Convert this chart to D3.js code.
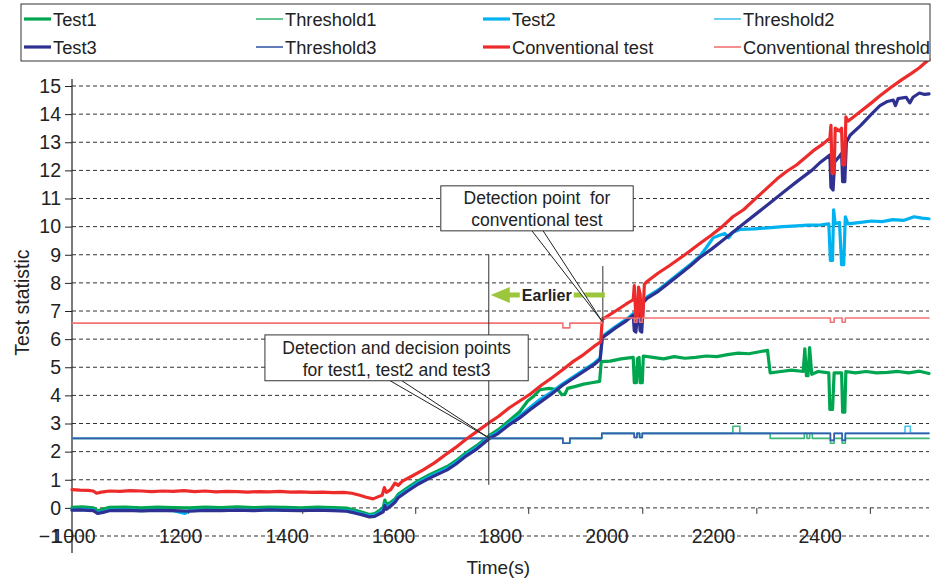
<!DOCTYPE html>
<html><head><meta charset="utf-8">
<script src="https://cdn.jsdelivr.net/npm/d3@7"></script>
<style>
body{margin:0;background:#fff}
svg{display:block}
text{font-family:"Liberation Sans",Arial,Helvetica,sans-serif;fill:#222}
</style>
</head><body>
<svg id="c" width="933" height="581"></svg>
<script>
// ---------- DATA ----------
const seriesNames = ["Test1","Threshold1","Test2","Threshold2","Test3","Threshold3","Conventional test","Conventional threshold"];
const seriesColors = ["#00a550","#3cb878","#00b2ef","#45c3f0","#2e3192","#3a5ba8","#ee2b2b","#f27373"];
const xTickLabels = [1000,1200,1400,1600,1800,2000,2200,2400];
const xMinorTicks = [1218,1432,1644,1856,2070,2284,2497];
const yTicks = [-1,0,1,2,3,4,5,6,7,8,9,10,11,12,13,14,15];

const test1 = [[1000,0.02],[1020,0.04],[1040,0.0],[1048,-0.1],[1058,-0.05],[1070,0.02],[1100,0.03],[1130,0.0],[1160,0.03],[1190,0.01],[1220,0.0],[1250,0.03],[1280,0.01],[1310,0.04],[1340,0.01],[1370,0.03],[1400,0.02],[1430,0.0],[1460,0.03],[1490,0.01],[1515,-0.01],[1530,-0.08],[1545,-0.16],[1558,-0.24],[1568,-0.2],[1578,-0.08],[1584,0.02],[1587,0.28],[1590,0.12],[1597,0.18],[1606,0.32],[1612,0.48],[1630,0.72],[1650,0.97],[1670,1.17],[1704,1.47],[1720,1.67],[1740,1.97],[1760,2.22],[1782,2.56],[1800,2.78],[1820,3.1],[1840,3.42],[1855,3.8],[1865,3.95],[1878,4.2],[1895,4.25],[1912,4.2],[1919,4.02],[1925,4.05],[1930,4.25],[1945,4.32],[1960,4.4],[1975,4.45],[1990,4.5],[1993,5.2],[2010,5.22],[2030,5.3],[2053,5.35],[2055,4.45],[2059,4.45],[2061,5.3],[2064,5.35],[2066,4.45],[2070,4.45],[2072,5.4],[2090,5.35],[2110,5.3],[2130,5.38],[2150,5.32],[2170,5.35],[2190,5.4],[2210,5.38],[2230,5.45],[2250,5.5],[2270,5.48],[2290,5.55],[2305,5.6],[2310,4.8],[2330,4.85],[2350,4.9],[2372,4.85],[2375,5.65],[2378,4.7],[2381,4.7],[2384,5.7],[2388,4.75],[2400,4.85],[2420,4.8],[2422,3.5],[2427,3.5],[2430,4.8],[2444,4.8],[2446,3.4],[2450,3.4],[2452,4.85],[2470,4.8],[2490,4.85],[2510,4.8],[2530,4.82],[2550,4.85],[2570,4.8],[2590,4.86],[2608,4.78]];

const threshold1 = [[1000,2.47],[1921,2.3],[1934,2.47],[1994,2.65],[2055,2.5],[2060,2.65],[2065,2.5],[2070,2.65],[2240,2.9],[2253,2.65],[2310,2.47],[2374,2.65],[2379,2.47],[2384,2.65],[2389,2.47],[2423,2.3],[2430,2.47],[2445,2.3],[2451,2.47],[2608,2.47]];

const test2 = [[1000,-0.06],[1020,-0.05],[1040,-0.08],[1048,-0.18],[1058,-0.14],[1070,-0.08],[1100,-0.07],[1130,-0.1],[1160,-0.08],[1190,-0.1],[1212,-0.2],[1220,-0.1],[1250,-0.08],[1280,-0.09],[1310,-0.07],[1340,-0.09],[1370,-0.06],[1400,-0.08],[1430,-0.09],[1460,-0.07],[1490,-0.08],[1515,-0.1],[1530,-0.15],[1545,-0.22],[1558,-0.28],[1568,-0.26],[1578,-0.16],[1584,-0.08],[1587,0.12],[1590,0.0],[1597,0.1],[1606,0.25],[1612,0.4],[1630,0.65],[1650,0.9],[1670,1.1],[1704,1.4],[1720,1.6],[1740,1.9],[1760,2.15],[1782,2.5],[1800,2.7],[1820,3.0],[1840,3.27],[1860,3.58],[1878,3.85],[1900,4.12],[1920,4.4],[1940,4.65],[1960,4.9],[1980,5.15],[1991,5.33],[1995,6.1],[2020,6.45],[2040,6.7],[2053,6.9],[2079,7.5],[2100,7.75],[2120,8.05],[2140,8.35],[2160,8.65],[2178,8.95],[2190,9.25],[2203,9.6],[2216,9.7],[2225,9.75],[2232,9.6],[2240,9.8],[2253,9.9],[2280,9.92],[2300,9.95],[2334,10.0],[2360,10.03],[2380,10.05],[2400,10.05],[2420,10.1],[2423,8.8],[2427,8.8],[2429,10.6],[2432,10.1],[2440,10.15],[2444,8.65],[2448,8.65],[2451,10.35],[2456,10.1],[2480,10.15],[2500,10.2],[2520,10.18],[2540,10.25],[2560,10.22],[2580,10.35],[2595,10.3],[2608,10.28]];

const threshold2 = [[1000,2.47],[1921,2.3],[1934,2.47],[1994,2.65],[2055,2.5],[2060,2.65],[2065,2.5],[2070,2.65],[2423,2.4],[2430,2.65],[2445,2.4],[2451,2.65],[2563,2.9],[2573,2.65],[2608,2.65]];

const test3 = [[1000,-0.08],[1015,-0.07],[1030,-0.09],[1040,-0.1],[1048,-0.2],[1058,-0.16],[1070,-0.1],[1100,-0.09],[1130,-0.11],[1160,-0.09],[1190,-0.1],[1220,-0.12],[1250,-0.09],[1280,-0.1],[1310,-0.08],[1340,-0.1],[1370,-0.07],[1400,-0.09],[1430,-0.1],[1460,-0.08],[1490,-0.1],[1515,-0.12],[1530,-0.18],[1545,-0.25],[1558,-0.32],[1568,-0.3],[1578,-0.2],[1584,-0.14],[1587,0.08],[1590,-0.05],[1597,0.05],[1606,0.2],[1612,0.36],[1630,0.6],[1650,0.85],[1670,1.05],[1704,1.35],[1720,1.55],[1740,1.85],[1760,2.1],[1782,2.45],[1800,2.65],[1820,2.95],[1840,3.2],[1860,3.5],[1878,3.75],[1900,4.05],[1920,4.35],[1940,4.6],[1960,4.85],[1980,5.1],[1991,5.28],[1995,6.05],[2020,6.4],[2040,6.65],[2053,6.85],[2055,6.3],[2058,6.25],[2061,6.85],[2064,6.9],[2066,6.3],[2069,6.25],[2072,7.3],[2079,7.45],[2100,7.7],[2120,8.0],[2140,8.3],[2160,8.6],[2178,8.9],[2200,9.2],[2220,9.5],[2240,9.8],[2260,10.1],[2280,10.4],[2300,10.7],[2320,11.0],[2340,11.3],[2360,11.6],[2388,12.0],[2405,12.3],[2422,12.55],[2424,11.4],[2428,11.3],[2431,12.3],[2440,12.5],[2444,12.6],[2446,11.6],[2450,11.6],[2453,13.0],[2460,13.25],[2480,13.6],[2500,14.0],[2516,14.3],[2530,14.45],[2541,14.5],[2545,14.3],[2550,14.55],[2565,14.6],[2572,14.4],[2578,14.6],[2590,14.75],[2600,14.7],[2608,14.72]];

const threshold3 = [[1000,2.47],[1921,2.3],[1934,2.47],[1994,2.65],[2055,2.5],[2060,2.65],[2065,2.5],[2070,2.65],[2423,2.4],[2430,2.65],[2445,2.4],[2451,2.65],[2608,2.65]];

const convTest = [[1000,0.65],[1015,0.63],[1030,0.62],[1040,0.6],[1046,0.52],[1055,0.56],[1070,0.6],[1090,0.59],[1110,0.61],[1130,0.6],[1150,0.58],[1170,0.6],[1190,0.59],[1210,0.61],[1230,0.58],[1250,0.6],[1270,0.57],[1290,0.59],[1310,0.58],[1330,0.56],[1350,0.58],[1370,0.57],[1390,0.59],[1410,0.56],[1430,0.57],[1450,0.55],[1470,0.56],[1490,0.54],[1510,0.55],[1525,0.52],[1540,0.45],[1552,0.38],[1565,0.32],[1575,0.4],[1582,0.45],[1586,0.72],[1590,0.55],[1598,0.65],[1606,0.88],[1612,0.8],[1620,0.95],[1640,1.15],[1659,1.35],[1680,1.6],[1700,1.88],[1720,2.15],[1740,2.45],[1760,2.72],[1782,3.02],[1800,3.25],[1820,3.55],[1840,3.8],[1860,4.05],[1880,4.35],[1900,4.62],[1920,4.9],[1940,5.2],[1960,5.45],[1980,5.75],[1992,5.9],[1995,6.7],[2020,7.0],[2040,7.25],[2053,7.4],[2055,7.9],[2058,6.8],[2061,6.8],[2063,7.85],[2066,7.6],[2068,6.8],[2071,6.8],[2074,7.95],[2079,8.05],[2100,8.35],[2120,8.6],[2150,9.0],[2178,9.4],[2200,9.7],[2220,10.0],[2240,10.35],[2260,10.6],[2280,10.95],[2300,11.3],[2323,11.7],[2340,11.95],[2360,12.2],[2391,12.7],[2410,12.95],[2422,13.15],[2424,13.6],[2426,11.9],[2430,11.9],[2432,13.5],[2440,13.4],[2444,13.5],[2446,12.2],[2450,12.2],[2452,13.9],[2456,13.75],[2480,14.1],[2500,14.4],[2516,14.65],[2535,14.93],[2555,15.2],[2575,15.45],[2590,15.65],[2608,15.95]];

const convThreshold = [[1000,6.57],[1921,6.4],[1934,6.57],[1994,6.75],[2055,6.6],[2060,6.75],[2065,6.6],[2070,6.75],[2423,6.6],[2430,6.75],[2445,6.6],[2451,6.75],[2608,6.75]];

// annotations (data coordinates)
const decisionTime = 1782, convDetectTime = 1996;
const earlierArrowY = 7.57;
const calloutTexts = [["Detection point  for","conventional test"],["Detection and decision points","for test1, test2 and test3"]];

// ---------- CHART ----------
const svg = d3.select("#c");
const x = d3.scaleLinear().domain([1000,2608]).range([72,929]);
const y = d3.scaleLinear().domain([-1,15]).range([536,86]);

// gridlines
svg.append("g").selectAll("line").data(yTicks).join("line")
  .attr("x1",x(1000)).attr("x2",x(2608))
  .attr("y1",d=>y(d)).attr("y2",d=>y(d))
  .attr("stroke","#333").attr("stroke-width",1).attr("stroke-dasharray","4,3");

// y axis
const yAxis = d3.axisLeft(y).tickValues(yTicks).tickSize(7).tickPadding(4).tickFormat(d3.format("d"));
const gy = svg.append("g").attr("transform",`translate(${x(1000)},0)`).call(yAxis);
gy.select(".domain").remove();
gy.selectAll(".tick line").attr("stroke","#222");
gy.selectAll("text").attr("font-size",19.5).attr("fill","#222").style("font-family","Liberation Sans, Arial, sans-serif");
svg.append("line").attr("x1",x(1000)).attr("x2",x(1000)).attr("y1",y(15.25)).attr("y2",y(-1.6)).attr("stroke","#222").attr("stroke-width",1.2);

// x minor ticks at zero line
const gxm = svg.append("g").attr("transform",`translate(0,${y(0)})`)
  .call(d3.axisBottom(x).tickValues(xMinorTicks).tickSize(6).tickFormat(""));
gxm.select(".domain").remove();
gxm.selectAll(".tick line").attr("stroke","#333");

// x labels sitting on the -1 line
svg.append("g").selectAll("text").data(xTickLabels).join("text")
  .attr("x",d=>x(d)+2).attr("y",y(-1)).attr("dy","0.36em")
  .attr("text-anchor","middle").attr("font-size",19.5).text(d=>d);

// axis titles
svg.append("text").attr("x",x(1800)).attr("y",574).attr("text-anchor","middle").attr("font-size",19).text("Time(s)");
svg.append("text").attr("transform",`translate(29,${y(7.3)}) rotate(-90)`).attr("text-anchor","middle").attr("font-size",19.5).text("Test statistic");

// series
const allSeries = [test1,threshold1,test2,threshold2,test3,threshold3,convTest,convThreshold];
const isThreshold = [false,true,false,true,false,true,false,true];
const lineFn = d3.line().x(d=>x(d[0])).y(d=>y(d[1]));
const stepFn = d3.line().x(d=>x(d[0])).y(d=>y(d[1])).curve(d3.curveStepAfter);
allSeries.forEach((s,i)=>{
  svg.append("path").datum(s)
    .attr("d", isThreshold[i] ? stepFn : lineFn)
    .attr("fill","none").attr("stroke",seriesColors[i])
    .attr("stroke-width", isThreshold[i] ? 1.6 : 3.2)
    .attr("stroke-linejoin","round").attr("stroke-linecap","round");
});

// vertical annotation lines
svg.append("line").attr("x1",x(decisionTime)).attr("x2",x(decisionTime)).attr("y1",y(9.0)).attr("y2",y(0.82)).attr("stroke","#333").attr("stroke-width",1);
svg.append("line").attr("x1",x(convDetectTime)).attr("x2",x(convDetectTime)).attr("y1",y(8.6)).attr("y2",y(6.6)).attr("stroke","#333").attr("stroke-width",1);

// Earlier arrow
const ag = svg.append("g");
const arrowColor = "#9cc63b";
const ax0 = x(decisionTime)+2, ay = y(earlierArrowY);
ag.append("path").attr("d",`M${ax0},${ay} L${ax0+19},${ay-8} L${ax0+19},${ay+8} Z`).attr("fill",arrowColor);
ag.append("line").attr("x1",ax0+18).attr("x2",ax0+29).attr("y1",ay).attr("y2",ay).attr("stroke",arrowColor).attr("stroke-width",5);
ag.append("line").attr("x1",ax0+83).attr("x2",x(convDetectTime)+2).attr("y1",ay).attr("y2",ay).attr("stroke",arrowColor).attr("stroke-width",5);
ag.append("text").attr("x",ax0+56).attr("y",ay).attr("dy","0.36em").attr("text-anchor","middle")
  .attr("font-size",16).attr("font-weight","bold").attr("fill","#333").text("Earlier");

// callouts
const callouts = [
  {texts:calloutTexts[0], t0:1692, t1:2053, v0:11.45, v1:9.85, b0:1863, b1:1884, tipT:1994, tipV:6.65},
  {texts:calloutTexts[1], t0:1362, t1:1856, v0:6.15, v1:4.52, b0:1597, b1:1619, tipT:1782, tipV:2.49}
];
callouts.forEach(c=>{
  const g = svg.append("g");
  g.append("path").attr("d",`M${x(c.b0)},${y(c.v1)} L${x(c.tipT)},${y(c.tipV)} L${x(c.b1)},${y(c.v1)}`)
    .attr("fill","#fff").attr("stroke","#222").attr("stroke-width",1);
  g.append("rect").attr("x",x(c.t0)).attr("y",y(c.v0)).attr("width",x(c.t1)-x(c.t0)).attr("height",y(c.v1)-y(c.v0))
    .attr("fill","#fff").attr("stroke","#333").attr("stroke-width",1);
  const cx = (x(c.t0)+x(c.t1))/2, h = y(c.v1)-y(c.v0);
  c.texts.forEach((t,k)=>{
    g.append("text").attr("x",cx).attr("y",y(c.v0)+h*(k===0?0.27:0.75)).attr("dy","0.36em")
      .attr("text-anchor","middle").attr("font-size",17.5).style("white-space","pre").text(t);
  });
});

// legend
const lg = svg.append("g");
lg.append("rect").attr("x",21).attr("y",4).attr("width",909).attr("height",57).attr("fill","#fff").attr("stroke","#333").attr("stroke-width",1);
const colX = [24,256,483,714], rowY = [19,47];
seriesNames.forEach((n,i)=>{
  const col = i%4, row = i<4?0:1;
  const lx = colX[col], ly = rowY[row];
  lg.append("line").attr("x1",lx).attr("x2",lx+27).attr("y1",ly).attr("y2",ly)
    .attr("stroke",seriesColors[i]).attr("stroke-width",isThreshold[i]?1.6:3.2);
  lg.append("text").attr("x",lx+29).attr("y",ly).attr("dy","0.36em").attr("font-size",18.3).text(n);
});
</script>
</body></html>
